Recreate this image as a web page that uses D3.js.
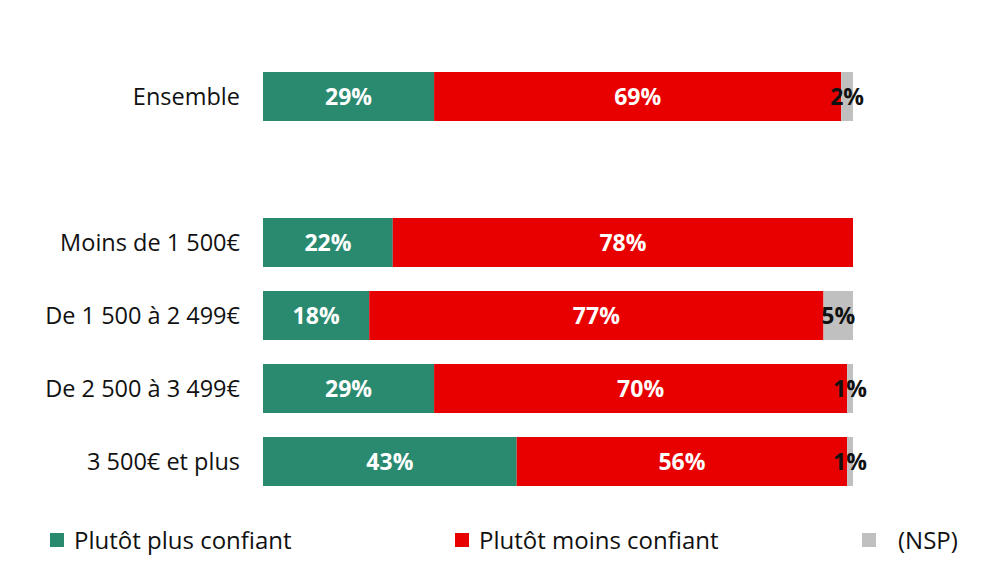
<!DOCTYPE html>
<html>
<head>
<meta charset="utf-8">
<script src="https://cdn.jsdelivr.net/npm/d3@7"></script>
<style>
  body { margin: 0; background: #fff; }
  svg { font-family: "Open Sans", Lato, sans-serif; }
</style>
</head>
<body>
<svg id="chart"></svg>
<script>
const categories = ["Ensemble", "", "Moins de 1 500€", "De 1 500 à 2 499€", "De 2 500 à 3 499€", "3 500€ et plus"];
const plusConfiant = [29, null, 22, 18, 29, 43];
const moinsConfiant = [69, null, 78, 77, 70, 56];
const nsp = [2, null, 0, 5, 1, 1];
const seriesNames = ["Plutôt plus confiant", "Plutôt moins confiant", "(NSP)"];

const width = 998, height = 561;
const colors = ["#2a8a70", "#e80000", "#c0c0c0"];

const svg = d3.select("#chart").attr("width", width).attr("height", height);

const rows = categories.map((c, i) => ({
  name: c,
  values: [plusConfiant[i], moinsConfiant[i], nsp[i]]
})).filter(d => d.values[0] !== null);

const x = d3.scaleLinear().domain([0, 100]).range([263, 853]);
// 6 slots (one empty gap after Ensemble), step 73, bar height 49
const y = d3.scaleBand()
  .domain(categories)
  .range([72, 486])
  .paddingInner(24 / 73)
  .paddingOuter(0);

const stacked = rows.map(r => {
  let acc = 0;
  return r.values.map((v, k) => {
    const seg = { name: r.name, k, v, x0: acc, x1: acc + v };
    acc += v;
    return seg;
  });
});

const g = svg.append("g");

const row = g.selectAll(".row")
  .data(stacked)
  .enter()
  .append("g")
  .attr("class", "row");

row.selectAll("rect")
  .data(d => d.filter(s => s.v > 0))
  .enter()
  .append("rect")
  .attr("x", d => x(d.x0))
  .attr("y", d => y(d.name))
  .attr("width", d => x(d.x1) - x(d.x0))
  .attr("height", y.bandwidth())
  .attr("fill", d => colors[d.k]);

row.selectAll("text")
  .data(d => d.filter(s => s.v > 0))
  .enter()
  .append("text")
  .attr("x", d => (x(d.x0) + x(d.x1)) / 2)
  .attr("y", d => y(d.name) + y.bandwidth() / 2)
  .attr("dy", "0.36em")
  .attr("text-anchor", "middle")
  .attr("font-size", 23)
  .attr("font-weight", "bold")
  .attr("fill", d => d.k === 2 ? "#111" : "#fff")
  .text(d => d.v + "%");

// category labels
g.selectAll(".cat")
  .data(rows)
  .enter()
  .append("text")
  .attr("class", "cat")
  .attr("x", 240)
  .attr("y", d => y(d.name) + y.bandwidth() / 2)
  .attr("dy", "0.36em")
  .attr("text-anchor", "end")
  .attr("font-size", 23.5)
  .attr("fill", "#111")
  .text(d => d.name);

// legend
const legendX = [50, 455, 862];
const leg = svg.append("g").selectAll("g")
  .data(seriesNames)
  .enter()
  .append("g")
  .attr("transform", (d, i) => `translate(${legendX[i]},533)`);

leg.append("rect")
  .attr("width", 14)
  .attr("height", 14)
  .attr("fill", (d, i) => colors[i]);

leg.append("text")
  .attr("x", (d, i) => i === 2 ? 36 : 24)
  .attr("y", 7)
  .attr("dy", "0.36em")
  .attr("font-size", 24)
  .attr("fill", "#111")
  .text(d => d);
</script>
</body>
</html>
